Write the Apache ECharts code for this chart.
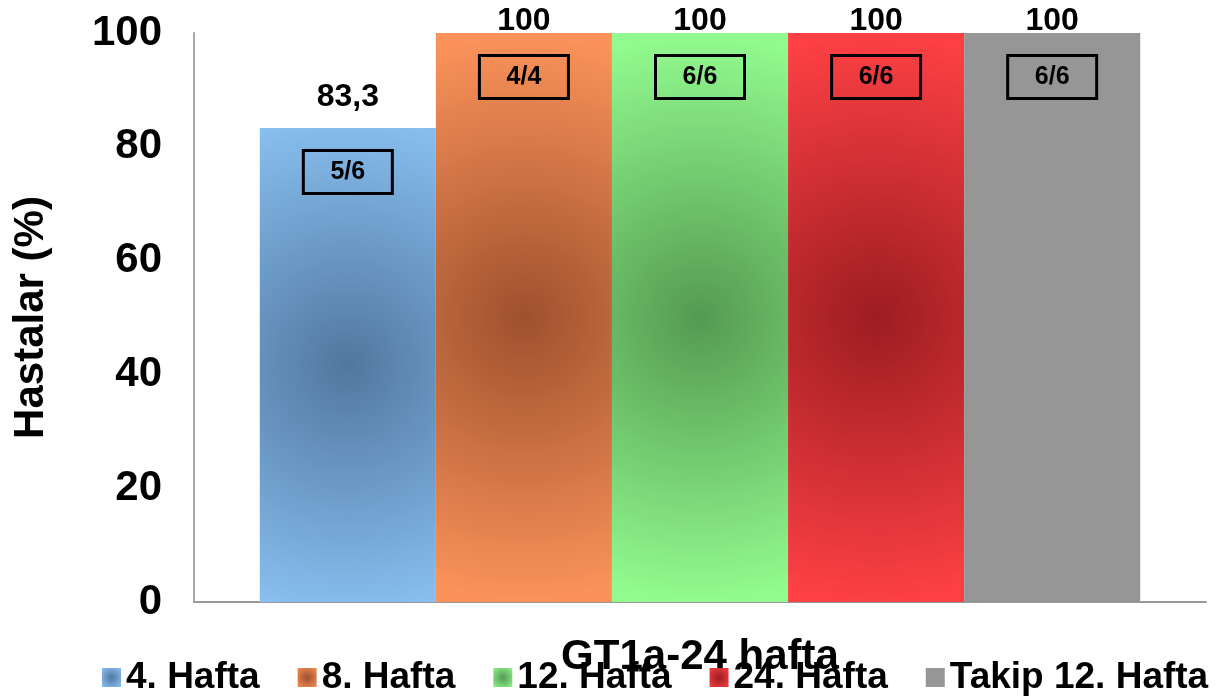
<!DOCTYPE html>
<html>
<head>
<meta charset="utf-8">
<script src="https://cdn.jsdelivr.net/npm/echarts@6/dist/echarts.min.js"></script>
<style>
html,body{margin:0;padding:0;background:#fff;}
#chart{width:1216px;height:697px;}
</style>
</head>
<body>
<div id="chart"></div>
<script>
// Response rates per time point (%)
const category = 'GT1a-24 hafta';
const seriesNames = ['4. Hafta', '8. Hafta', '12. Hafta', '24. Hafta', 'Takip 12. Hafta'];
const values = [83.3, 100, 100, 100, 100];
const counts = ['5/6', '4/4', '6/6', '6/6', '6/6'];
const yTicks = [0, 20, 40, 60, 80, 100];

// Edge / centre colours of each bar fill
const edgeColors = ['#8ec8fa', '#fa925a', '#92fa8e', '#fc4044', '#969696'];
const centerColors = ['#52779f', '#9e512d', '#549a51', '#9c1d21', '#969696'];

const FONT = '"Liberation Sans", Arial, sans-serif';

// Radial shading: dark core fading out towards the bar ends
function fill(i, r) {
  if (edgeColors[i] === centerColors[i]) return edgeColors[i];
  return new echarts.graphic.RadialGradient(0.5, 0.5, r, [
    { offset: 0, color: centerColors[i] },
    { offset: 1, color: edgeColors[i] }
  ]);
}

const series = seriesNames.map((name, i) => ({
  name: name,
  type: 'bar',
  barGap: '0%',
  barCategoryGap: '13%',
  data: [values[i]],
  itemStyle: { color: fill(i, 1.6) },
  label: {
    show: true,
    position: 'top',
    // full-height bars keep their value tight against the plot top
    distance: values[i] >= yTicks[yTicks.length - 1] ? -4 : 15,
    fontFamily: FONT,
    fontWeight: 'bold',
    fontSize: 32,
    color: '#000',
    formatter: p => String(p.value).replace('.', ',')
  },
  markPoint: {
    symbol: 'rect',
    symbolSize: [92, 46],
    symbolOffset: [0, 44],
    itemStyle: { color: 'rgba(0,0,0,0)', borderWidth: 0 },
    label: {
      show: true,
      position: 'inside',
      fontFamily: FONT,
      fontWeight: 'bold',
      fontSize: 25,
      color: '#000',
      width: 89,
      height: 43,
      lineHeight: 43,
      padding: 0,
      align: 'center',
      verticalAlign: 'middle',
      borderColor: '#000',
      borderWidth: 3,
      formatter: counts[i]
    },
    data: [{ coord: [category, values[i]] }]
  }
}));

const chart = echarts.init(document.getElementById('chart'));
chart.setOption({
  animation: false,
  color: edgeColors,
  grid: { left: 194, right: 10, top: 33, bottom: 95 },
  legend: {
    top: 659,
    left: 102,
    padding: 0,
    itemWidth: 19,
    itemHeight: 19,
    itemGap: 38,
    icon: 'rect',
    data: seriesNames.map((n, i) => ({ name: n, itemStyle: { color: fill(i, 0.75) } })),
    textStyle: { fontFamily: FONT, fontWeight: 'bold', fontSize: 37, color: '#000' }
  },
  xAxis: {
    type: 'category',
    data: [category],
    axisLine: { lineStyle: { color: '#999', width: 2 } },
    axisTick: { show: false },
    axisLabel: { margin: 34, fontFamily: FONT, fontWeight: 'bold', fontSize: 42, color: '#000' }
  },
  yAxis: {
    type: 'value',
    min: yTicks[0],
    max: yTicks[yTicks.length - 1],
    interval: yTicks[1] - yTicks[0],
    name: 'Hastalar (%)',
    nameLocation: 'middle',
    nameGap: 142,
    nameTextStyle: { fontFamily: FONT, fontWeight: 'bold', fontSize: 42, color: '#000' },
    axisLine: { show: true, lineStyle: { color: '#aaa', width: 2 } },
    axisTick: { show: false },
    splitLine: { show: false },
    axisLabel: { margin: 32, fontFamily: FONT, fontWeight: 'bold', fontSize: 42, color: '#000' }
  },
  series: series
});
</script>
</body>
</html>
